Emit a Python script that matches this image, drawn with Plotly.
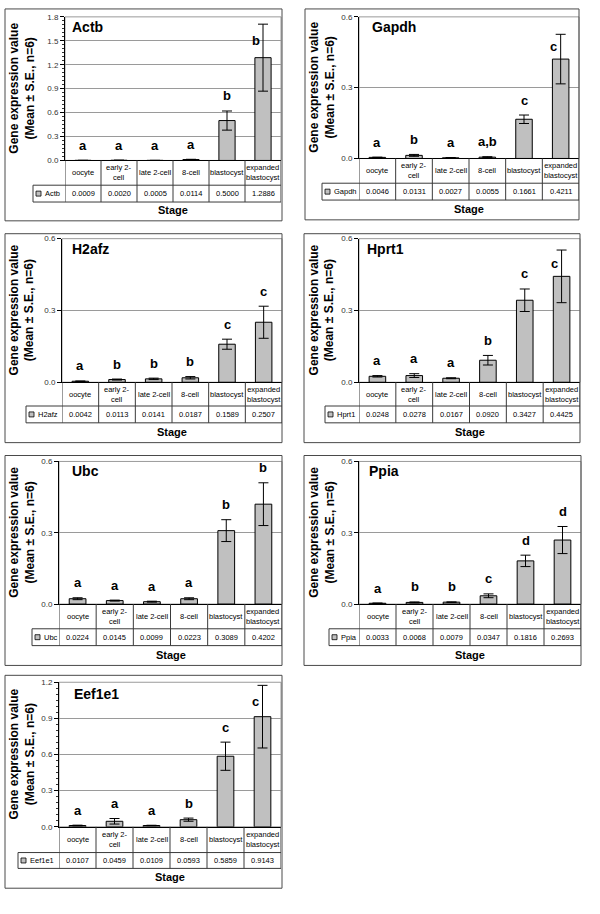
import plotly.graph_objects as go

# ---------------- data ----------------
STAGES = ["oocyte", "early 2-<br>cell", "late 2-cell", "8-cell", "blastocyst", "expanded<br>blastocyst"]
GENES = ["Actb", "Gapdh", "H2afz", "Hprt1", "Ubc", "Ppia", "Eef1e1"]

ACTB_MEAN = [0.0009, 0.0020, 0.0005, 0.0114, 0.5000, 1.2886]
ACTB_SE = [0.0003, 0.0008, 0.0002, 0.003, 0.12, 0.42]
ACTB_LET = ["a", "a", "a", "a", "b", "b"]

GAPDH_MEAN = [0.0046, 0.0131, 0.0027, 0.0055, 0.1661, 0.4211]
GAPDH_SE = [0.001, 0.004, 0.001, 0.002, 0.018, 0.105]
GAPDH_LET = ["a", "b", "a", "a,b", "c", "c"]

H2AFZ_MEAN = [0.0042, 0.0113, 0.0141, 0.0187, 0.1589, 0.2507]
H2AFZ_SE = [0.001, 0.002, 0.003, 0.005, 0.021, 0.067]
H2AFZ_LET = ["a", "b", "b", "b", "c", "c"]

HPRT1_MEAN = [0.0248, 0.0278, 0.0167, 0.0920, 0.3427, 0.4425]
HPRT1_SE = [0.003, 0.008, 0.002, 0.02, 0.047, 0.11]
HPRT1_LET = ["a", "a", "a", "b", "c", "c"]

UBC_MEAN = [0.0224, 0.0145, 0.0099, 0.0223, 0.3089, 0.4202]
UBC_SE = [0.004, 0.002, 0.002, 0.004, 0.046, 0.09]
UBC_LET = ["a", "a", "a", "a", "b", "b"]

PPIA_MEAN = [0.0033, 0.0068, 0.0079, 0.0347, 0.1816, 0.2693]
PPIA_SE = [0.001, 0.002, 0.001, 0.008, 0.024, 0.057]
PPIA_LET = ["a", "b", "b", "c", "d", "d"]

EEF1E1_MEAN = [0.0107, 0.0459, 0.0109, 0.0593, 0.5859, 0.9143]
EEF1E1_SE = [0.003, 0.023, 0.002, 0.013, 0.117, 0.26]
EEF1E1_LET = ["a", "a", "a", "b", "c", "c"]

Y_MAX = [1.8, 0.6, 0.6, 0.6, 0.6, 0.6, 1.2]
Y_DTICK = 0.3
MINOR = [True, False, False, False, False, False, True]

MEANS = [ACTB_MEAN, GAPDH_MEAN, H2AFZ_MEAN, HPRT1_MEAN, UBC_MEAN, PPIA_MEAN, EEF1E1_MEAN]
SES = [ACTB_SE, GAPDH_SE, H2AFZ_SE, HPRT1_SE, UBC_SE, PPIA_SE, EEF1E1_SE]
LETTERS = [ACTB_LET, GAPDH_LET, H2AFZ_LET, HPRT1_LET, UBC_LET, PPIA_LET, EEF1E1_LET]

# ---------------- layout (pixels) ----------------
BOXES = [
    dict(x0=65, x1=281, yt=13, yb=158, yc=183, yv=200, xl=33, b=(5, 5, 282, 219), sy=208, tx=70, ty=23, yx=22),
    dict(x0=359, x1=579, yt=13, yb=156, yc=181, yv=198, xl=322, b=(305, 5, 579, 218), sy=207, tx=370, ty=23, yx=322),
    dict(x0=62, x1=282, yt=237, yb=382, yc=406, yv=423, xl=26, b=(5, 232, 282, 443), sy=432, tx=70, ty=247, yx=22),
    dict(x0=359, x1=580, yt=237, yb=382, yc=406, yv=423, xl=325, b=(304, 232, 580, 443), sy=432, tx=365, ty=247, yx=322),
    dict(x0=59, x1=282, yt=462, yb=606, yc=631, yv=648, xl=32, b=(5, 456, 282, 668), sy=657, tx=70, ty=472, yx=22),
    dict(x0=359, x1=581, yt=462, yb=606, yc=631, yv=648, xl=329, b=(304, 456, 581, 668), sy=657, tx=367, ty=472, yx=322),
    dict(x0=59, x1=281, yt=685, yb=831, yc=857, yv=873, xl=18, b=(5, 678, 282, 893), sy=882, tx=72, ty=697, yx=22),
]

W, H = 600, 914
FONT = "Liberation Sans, Arial, sans-serif"


def px(x):
    return x / W


def py(y):
    return 1 - y / H


fig = go.Figure()
shapes = []
annos = []
layout_axes = {}

for i, gene in enumerate(GENES):
    bx = BOXES[i]
    sfx = "" if i == 0 else str(i + 1)
    xa, ya = "x" + sfx, "y" + sfx
    means, ses, lets, ymax = MEANS[i], SES[i], LETTERS[i], Y_MAX[i]
    cats = list(range(len(STAGES)))

    fig.add_trace(go.Bar(
        x=cats, y=means, width=0.45,
        marker=dict(color="#c0c0c0", line=dict(color="black", width=1)),
        error_y=dict(type="data", array=ses, visible=True, color="black", thickness=1, width=5),
        xaxis=xa, yaxis=ya, showlegend=False, hoverinfo="skip",
    ))

    layout_axes["xaxis" + sfx] = dict(
        domain=[px(bx["x0"]), px(bx["x1"])], anchor=ya, range=[-0.5, 5.5],
        showticklabels=False, ticks="", showline=True, linecolor="black", linewidth=1,
        showgrid=False, zeroline=False, fixedrange=True,
    )
    yax = dict(
        domain=[py(bx["yb"]), py(bx["yt"])], anchor=xa, range=[0, ymax], dtick=Y_DTICK,
        tickformat=".1f", ticks="outside", ticklen=4, tickcolor="black",
        showline=True, linecolor="black", linewidth=1,
        showgrid=True, gridcolor="#9a9a9a", gridwidth=1, zeroline=False,
        tickfont=dict(family=FONT, size=8, color="#333333"), fixedrange=True,
    )
    if MINOR[i]:
        yax["minor"] = dict(ticks="outside", ticklen=2, dtick=0.05, tickcolor="#333333", showgrid=False)
    layout_axes["yaxis" + sfx] = yax

    # panel border
    b = bx["b"]
    shapes.append(dict(type="rect", xref="paper", yref="paper",
                       x0=px(b[0]), x1=px(b[2]), y0=py(b[3]), y1=py(b[1]),
                       line=dict(color="#4a4a4a", width=1)))
    # plot-area frame (top/right)
    shapes.append(dict(type="rect", xref="paper", yref="paper", layer="below",
                       x0=px(bx["x0"]), x1=px(bx["x1"]), y0=py(bx["yb"]), y1=py(bx["yt"]),
                       line=dict(color="#9a9a9a", width=1)))
    # data table lines
    tcol = "#3a3a3a"
    for yline in (bx["yc"], bx["yv"]):
        shapes.append(dict(type="line", xref="paper", yref="paper",
                           x0=px(bx["xl"]), x1=px(bx["x1"]), y0=py(yline), y1=py(yline),
                           line=dict(color=tcol, width=1)))
    for k in range(len(STAGES) + 1):
        shapes.append(dict(type="line", xref=xa, yref="paper",
                           x0=k - 0.5, x1=k - 0.5, y0=py(bx["yb"]), y1=py(bx["yv"]),
                           line=dict(color=tcol, width=1)))
    shapes.append(dict(type="line", xref="paper", yref="paper",
                       x0=px(bx["xl"]), x1=px(bx["xl"]), y0=py(bx["yc"]), y1=py(bx["yv"]),
                       line=dict(color=tcol, width=1)))
    # legend key square
    ym = (bx["yc"] + bx["yv"]) / 2
    shapes.append(dict(type="rect", xref="paper", yref="paper",
                       x0=px(bx["xl"] + 3), x1=px(bx["xl"] + 8), y0=py(ym + 2.5), y1=py(ym - 2.5),
                       fillcolor="#c0c0c0", line=dict(color="black", width=0.8)))
    annos.append(dict(xref="paper", yref="paper", x=px(bx["xl"] + 10), y=py(ym),
                      xanchor="left", yanchor="middle", showarrow=False, text=gene,
                      font=dict(family=FONT, size=7.5, color="black")))

    # table texts
    ymc = (bx["yb"] + bx["yc"]) / 2
    for k, (stage, v) in enumerate(zip(STAGES, means)):
        annos.append(dict(xref=xa, yref="paper", x=k, y=py(ymc), showarrow=False,
                          xanchor="center", yanchor="middle", text=stage,
                          font=dict(family=FONT, size=7.5, color="black")))
        annos.append(dict(xref=xa, yref="paper", x=k, y=py(ym), showarrow=False,
                          xanchor="center", yanchor="middle", text=f"{v:.4f}",
                          font=dict(family=FONT, size=7.5, color="black")))

    # significance letters
    hpx = bx["yb"] - bx["yt"]
    for k, (m, s, l) in enumerate(zip(means, ses, lets)):
        top_px = bx["yb"] - (m + s) / ymax * hpx
        if top_px - bx["yt"] < 20:
            annos.append(dict(xref=xa, yref=ya, x=k, y=m + 0.5 * s, xshift=-7, showarrow=False,
                              xanchor="center", yanchor="middle", text="<b>" + l + "</b>",
                              font=dict(family=FONT, size=13, color="black")))
        else:
            annos.append(dict(xref=xa, yref=ya, x=k, y=m + s, yshift=15, showarrow=False,
                              xanchor="center", yanchor="middle", text="<b>" + l + "</b>",
                              font=dict(family=FONT, size=13, color="black")))

    # gene title
    annos.append(dict(xref="paper", yref="paper", x=px(bx["tx"]), y=py(bx["ty"]), showarrow=False,
                      xanchor="left", yanchor="middle", text="<b>" + gene + "</b>",
                      font=dict(family=FONT, size=14, color="black")))
    # y title
    annos.append(dict(xref="paper", yref="paper", x=px(bx["yx"]), y=py((bx["yt"] + bx["yb"]) / 2),
                      showarrow=False, textangle=-90, xanchor="center", yanchor="middle",
                      text="<b>Gene expression value<br>(Mean ± S.E., n=6)</b>",
                      font=dict(family=FONT, size=12, color="black")))
    # x title
    annos.append(dict(xref="paper", yref="paper", x=px((bx["x0"] + bx["x1"]) / 2), y=py(bx["sy"]),
                      showarrow=False, xanchor="center", yanchor="middle", text="<b>Stage</b>",
                      font=dict(family=FONT, size=11, color="black")))

fig.update_layout(
    width=W, height=H, margin=dict(l=0, r=0, t=0, b=0),
    paper_bgcolor="white", plot_bgcolor="white",
    shapes=shapes, annotations=annos, bargap=0.5,
    font=dict(family=FONT),
    **layout_axes,
)

fig.write_html(
    "out.html",
    config={"displayModeBar": False},
    post_script="document.body.style.margin='0';document.body.style.padding='0';",
)
